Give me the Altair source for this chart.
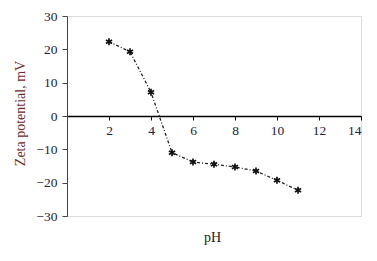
import altair as alt
import pandas as pd

ph = [2, 3, 4, 5, 6, 7, 8, 9, 10, 11]
zeta = [22.3, 19.3, 7.1, -11.0, -13.8, -14.5, -15.3, -16.5, -19.3, -22.3]
x_ticks = [2, 4, 6, 8, 10, 12, 14]
y_ticks = [-30, -20, -10, 0, 10, 20, 30]

df = pd.DataFrame({"pH": ph, "zeta": zeta})

FONT = "Liberation Serif"
LABEL_COLOR = "#1c2340"
TITLE_COLOR = "#6a2c2c"

x_scale = alt.Scale(domain=[0, 14], nice=False, zero=False)
y_scale = alt.Scale(domain=[-30, 30], nice=False)

x_enc = alt.X(
    "pH:Q",
    scale=x_scale,
    axis=alt.Axis(
        values=x_ticks, orient="bottom", offset=-100, grid=False, labelOverlap=False,
        domainColor="#000", domainWidth=1.3, tickColor="#000", tickSize=4,
        labelFont=FONT, labelFontSize=13.5, labelColor=LABEL_COLOR, labelPadding=3,
        title="pH", titleFont=FONT, titleFontSize=14, titleFontWeight="normal",
        titleColor="#222", titleY=128, titleX=145, titleBaseline="bottom",
    ),
)
y_enc = alt.Y(
    "zeta:Q",
    scale=y_scale,
    axis=alt.Axis(
        values=y_ticks, grid=False, labelOverlap=False, tickCount=7,
        domainColor="#444", domainWidth=1, tickColor="#444", tickSize=5,
        labelFont=FONT, labelFontSize=13.5, labelColor=LABEL_COLOR, labelPadding=5,
        title="Zeta potential, mV", titleFont=FONT, titleFontSize=14,
        titleFontWeight="normal", titleColor=TITLE_COLOR,
        titleX=-47, titleY=97, titleAngle=-90, titleAlign="center",
        titleBaseline="middle",
    ),
)

base = alt.Chart(df).encode(x=x_enc, y=y_enc)

line = base.mark_line(color="#222", strokeWidth=1.3, strokeDash=[3, 2, 1, 2])

asterisk = "M0,-1L0,1M-0.87,-0.5L0.87,0.5M-0.87,0.5L0.87,-0.5"
pts = base.mark_point(
    shape=asterisk, filled=False, color="#111", strokeWidth=1.7, size=50, opacity=1
)

chart = alt.layer(line, pts).properties(
    width=294, height=200,
    autosize=alt.AutoSizeParams(type="none"),
    padding={"left": 67, "top": 16, "right": 16, "bottom": 45},
).configure_view(stroke=None).configure(background="white")

chart.save("out.html", embed_options={"renderer": "svg", "actions": False})
